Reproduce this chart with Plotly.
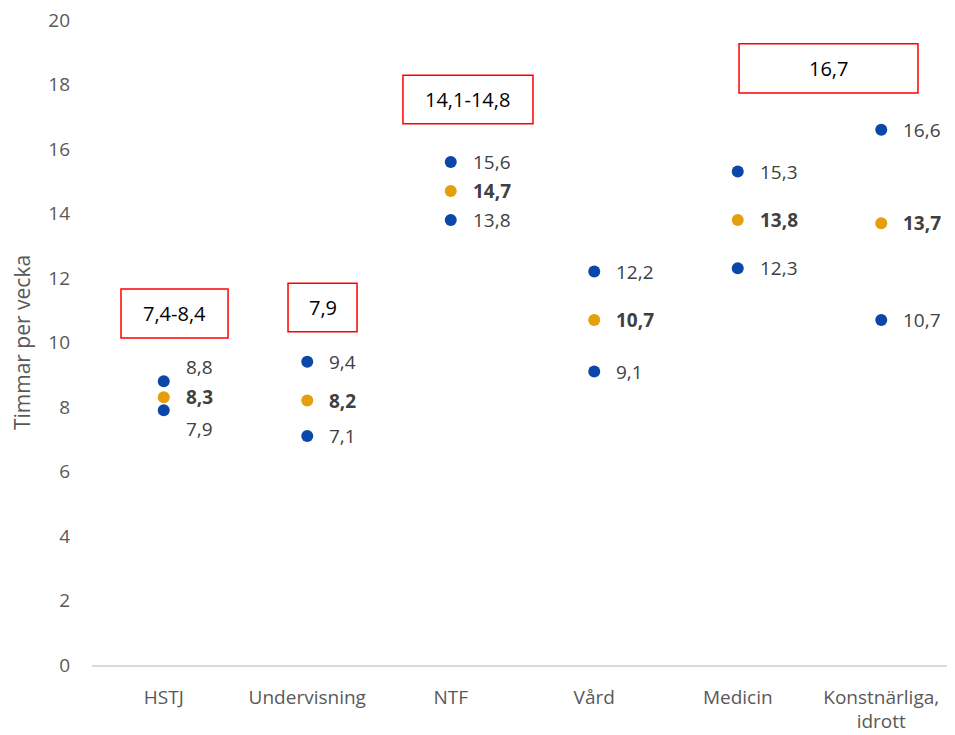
import plotly.graph_objects as go

categories = ["HSTJ", "Undervisning", "NTF", "Vård", "Medicin", "Konstnärliga,<br>idrott"]
upper = [8.8, 9.4, 15.6, 12.2, 15.3, 16.6]
middle = [8.3, 8.2, 14.7, 10.7, 13.8, 13.7]
lower = [7.9, 7.1, 13.8, 9.1, 12.3, 10.7]
box_labels = ["7,4-8,4", "7,9", "14,1-14,8", None, "16,7", None]
y_ticks = list(range(0, 21, 2))

BLUE = "#0b47a8"
ORANGE = "#e59e0c"
TXT = "#404040"
GREY = "#595959"
FONT = "Open Sans"

xs = list(range(len(categories)))

fig = go.Figure()
fig.add_trace(go.Scatter(x=xs + xs, y=upper + lower, mode="markers",
                         marker=dict(color=BLUE, size=12), cliponaxis=False, hoverinfo="y"))
fig.add_trace(go.Scatter(x=xs, y=middle, mode="markers",
                         marker=dict(color=ORANGE, size=12), cliponaxis=False, hoverinfo="y"))

def fmt(v):
    return f"{v:.1f}".replace(".", ",")

annotations = []
for i in xs:
    # first category has labels spread vertically
    up_shift = 14 if i == 0 else 0
    lo_shift = -19 if i == 0 else 0
    for v, bold, ys in [(upper[i], False, up_shift), (middle[i], True, 0), (lower[i], False, lo_shift)]:
        annotations.append(dict(
            x=i, y=v, xref="x", yref="y", text=f"<b>{fmt(v)}</b>" if bold else fmt(v),
            showarrow=False, xanchor="left", yanchor="middle", xshift=20, yshift=ys,
            font=dict(family=FONT, size=19, color=TXT)))

# red boxes (x0, x1, y0, y1 in data units) for categories that have them
box_geom = {0: (-0.298, 0.448, 10.14, 11.66),
            1: (0.866, 1.347, 10.33, 11.84),
            2: (1.667, 2.573, 16.78, 18.29),
            4: (4.009, 5.256, 17.74, 19.26)}
shapes = []
for i, lab in enumerate(box_labels):
    if lab is None:
        continue
    x0, x1, y0, y1 = box_geom[i]
    shapes.append(dict(type="rect", xref="x", yref="y", x0=x0, x1=x1, y0=y0, y1=y1,
                       line=dict(color="#ff0000", width=1.5), fillcolor="white", layer="below"))
    annotations.append(dict(x=(x0 + x1) / 2, y=(y0 + y1) / 2, xref="x", yref="y", text=lab,
                            showarrow=False, xanchor="center", yanchor="middle",
                            font=dict(family=FONT, size=20, color="#000000")))

fig.update_layout(
    width=947, height=727,
    margin=dict(l=84, r=2, t=12, b=70),
    paper_bgcolor="white", plot_bgcolor="white",
    showlegend=False,
    shapes=shapes, annotations=annotations,
    font=dict(family=FONT, color=GREY),
    xaxis=dict(range=[-0.5, 5.5], tickmode="array", tickvals=xs, ticktext=categories,
               showgrid=False, zeroline=False, showline=True, linecolor="#d9d9d9", linewidth=1.5,
               automargin=False,
               ticks="", tickfont=dict(family=FONT, size=19, color=GREY), ticklabelstandoff=14),
    yaxis=dict(range=[0, 20], tickmode="array", tickvals=y_ticks, ticktext=[str(t) for t in y_ticks],
               showgrid=False, zeroline=False, showline=False, ticks="",
               ticklabeloverflow="allow", automargin=False,
               tickfont=dict(family=FONT, size=19, color=GREY), ticklabelstandoff=21,
               title=dict(text="Timmar per vecka", font=dict(family=FONT, size=21, color=GREY), standoff=12)),
)

fig.write_html("out.html")
